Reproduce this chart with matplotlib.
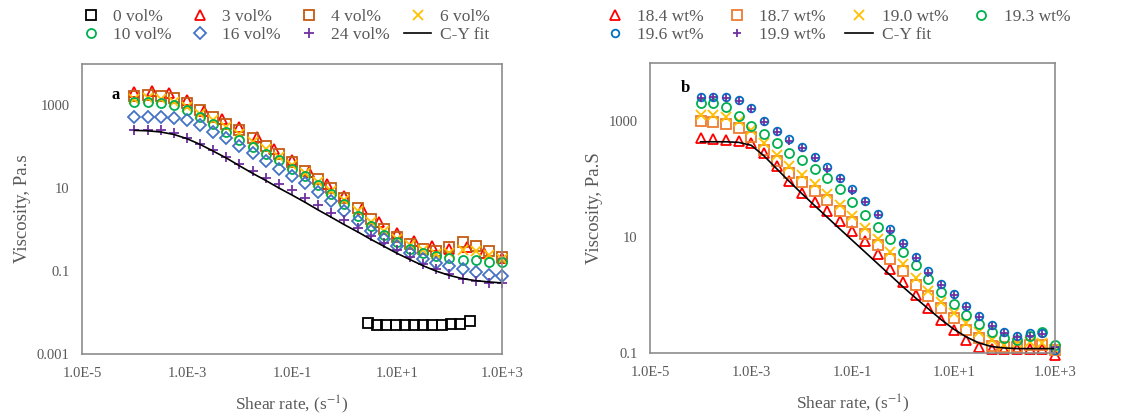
import numpy as np
import matplotlib
matplotlib.use('Agg')
import matplotlib.pyplot as plt

plt.rcParams['font.family'] = ['Liberation Serif', 'DejaVu Serif']
plt.rcParams['mathtext.fontset'] = 'stix'

# shear rate grid (s^-1), 4 points per decade
rate = [1.0e-4, 1.78e-4, 3.16e-4, 5.62e-4, 1.0e-3, 1.78e-3, 3.16e-3, 5.62e-3,
        1.0e-2, 1.78e-2, 3.16e-2, 5.62e-2, 0.1, 0.178, 0.316, 0.562,
        1.0, 1.78, 3.16, 5.62, 10, 17.8, 31.6, 56.2, 100, 178, 316, 562, 1000]
# red series in panel a was measured at 3 points per decade
rate_3 = [1.0e-4, 2.15e-4, 4.64e-4, 1.0e-3, 2.15e-3, 4.64e-3, 1.0e-2, 2.15e-2,
          4.64e-2, 0.1, 0.215, 0.464, 1.0, 2.15, 4.64, 10, 21.5, 46.4, 100,
          215, 464, 1000]
rate_0 = [2.8, 4.2, 6.3, 9.4, 14, 21, 32, 47, 71, 106, 159, 245]

# panel a: viscosity (Pa.s)
a_0 = [0.0057, 0.0050, 0.0050, 0.0051, 0.0051, 0.0051, 0.0051, 0.0051,
       0.0051, 0.0052, 0.0054, 0.0063]
a_3 = [2090, 2290, 2000, 1320, 724, 479, 302, 174, 91, 48, 25, 12.6, 6.6,
       3.16, 1.51, 0.83, 0.54, 0.40, 0.35, 0.38, 0.28, 0.21]
a_4 = [1660, 1780, 1740, 1510, 1120, 759, 525, 363, 251, 166, 107, 69, 43,
       26, 16.6, 10, 6.0, 3.3, 1.82, 1.05, 0.66, 0.46, 0.35, 0.30, 0.38,
       0.50, 0.40, 0.30, 0.22]
a_6 = [1410, 1480, 1410, 1200, 912, 631, 437, 295, 200, 135, 89, 58, 37,
       23, 14.5, 8.7, 5.1, 2.9, 1.58, 0.93, 0.60, 0.42, 0.32, 0.26, 0.28,
       0.33, 0.30, 0.25, 0.20]
a_10 = [1200, 1230, 1170, 1000, 759, 537, 363, 229, 145, 100, 69, 47, 30,
        19.5, 12.3, 7.2, 4.2, 2.2, 1.2, 0.76, 0.50, 0.35, 0.28, 0.23, 0.21,
        0.19, 0.19, 0.17, 0.17]
a_16 = [525, 537, 525, 501, 437, 331, 234, 162, 107, 71, 46, 30, 20.4, 13.2,
        8.1, 4.9, 2.9, 1.66, 0.95, 0.59, 0.40, 0.28, 0.20, 0.16, 0.13, 0.11,
        0.093, 0.083, 0.076]
a_24 = [251, 257, 251, 214, 166, 120, 83, 56, 38, 26, 18.2, 12.6, 8.9, 6.0,
        4.0, 2.6, 1.74, 1.12, 0.72, 0.47, 0.32, 0.22, 0.15, 0.11, 0.085,
        0.066, 0.058, 0.052, 0.052]
a_fit = [251, 245, 229, 200, 158, 115, 79, 54, 35, 23, 15.5, 10.2, 6.9, 4.6,
         3.0, 2.0, 1.32, 0.89, 0.59, 0.40, 0.27, 0.19, 0.135, 0.10, 0.079,
         0.066, 0.059, 0.055, 0.052]

# panel b: viscosity (Pa.s)
b_184 = [501, 479, 468, 457, 417, 282, 166, 93, 58, 40, 28, 18.6, 12.6, 8.5,
         5.2, 2.8, 1.66, 1.0, 0.60, 0.38, 0.25, 0.17, 0.13, 0.12, 0.12, 0.12,
         0.12, 0.12, 0.093]
b_187 = [977, 955, 891, 759, 525, 316, 200, 126, 89, 63, 43, 28, 18.2, 11.2,
         7.2, 4.2, 2.6, 1.51, 0.95, 0.60, 0.40, 0.25, 0.18, 0.135, 0.126,
         0.13, 0.138, 0.138, 0.112]
b_190 = [1260, 1260, 1170, 1000, 692, 417, 263, 166, 115, 81, 55, 36, 23,
         14.5, 9.3, 5.5, 3.4, 2.0, 1.2, 0.76, 0.50, 0.33, 0.23, 0.166, 0.141,
         0.148, 0.158, 0.151, 0.12]
b_193 = [2040, 2000, 1740, 1200, 832, 603, 417, 275, 209, 151, 105, 66, 40,
         24, 14.8, 9.1, 5.6, 3.3, 1.91, 1.12, 0.69, 0.46, 0.32, 0.23, 0.18,
         0.166, 0.20, 0.23, 0.141]
b_196 = [2630, 2630, 2570, 2290, 1660, 1000, 676, 479, 355, 240, 158, 105, 66,
         42, 25, 13.5, 7.9, 4.5, 2.57, 1.58, 1.05, 0.66, 0.44, 0.30, 0.23,
         0.20, 0.22, 0.22, 0.112]
b_199 = [2510, 2570, 2510, 2190, 1580, 955, 646, 457, 339, 229, 151, 100, 63,
         40, 24, 12.9, 7.6, 4.3, 2.45, 1.51, 1.0, 0.63, 0.42, 0.29, 0.22,
         0.19, 0.20, 0.21, 0.126]
b_fit = [437, 437, 437, 427, 380, 251, 151, 91, 56, 35, 22, 13.8, 8.7, 5.5,
         3.47, 2.19, 1.38, 0.89, 0.58, 0.38, 0.26, 0.19, 0.15, 0.13, 0.123,
         0.12, 0.12, 0.12, 0.12]

xticks = [1e-5, 1e-3, 1e-1, 1e1, 1e3]
xticklabels = ['1.0E-5', '1.0E-3', '1.0E-1', '1.0E+1', '1.0E+3']

gray = '#595959'
ms = 6.5

fig = plt.figure(figsize=(11.29, 4.16), dpi=100)
ax1 = fig.add_axes([0.0726, 0.149, 0.372, 0.697])
ax2 = fig.add_axes([0.5757, 0.151, 0.3587, 0.698])
for ax in (ax1, ax2):
    ax.set_xscale('log')
    ax.set_yscale('log')


def hollow(ax, x, y, marker, color, label, size=ms):
    ax.plot(x, y, linestyle='none', marker=marker, markersize=size,
            markerfacecolor='none', markeredgecolor=color, markeredgewidth=1.3,
            label=label, clip_on=False)


# panel a
hollow(ax1, rate_0, a_0, 's', 'black', '0 vol%')
hollow(ax1, rate_3, a_3, '^', '#FF0000', '3 vol%')
hollow(ax1, rate, a_4, 's', '#C55A11', '4 vol%')
hollow(ax1, rate, a_6, 'x', '#FFC000', '6 vol%')
hollow(ax1, rate, a_10, 'o', '#00B050', '10 vol%')
hollow(ax1, rate, a_16, 'D', '#4472C4', '16 vol%', 6)
hollow(ax1, rate, a_24, '+', '#7030A0', '24 vol%', 7.5)
ax1.plot(rate, a_fit, color='black', linewidth=1.2, label='C-Y fit')
ax1.set_ylim(0.001, 10000)
ax1.set_yticks([0.001, 0.1, 10, 1000])
ax1.set_yticklabels(['0.001', '0.1', '10', '1000'])
ax1.set_ylabel('Viscosity, Pa.s', color=gray, fontsize=13.5, labelpad=4)
ax1.text(0.07, 0.88, 'a', transform=ax1.transAxes, fontsize=12,
         fontweight='bold')

# panel b
hollow(ax2, rate, b_184, '^', '#FF0000', '18.4 wt%')
hollow(ax2, rate, b_187, 's', '#ED7D31', '18.7 wt%')
hollow(ax2, rate, b_190, 'x', '#FFC000', '19.0 wt%')
hollow(ax2, rate, b_193, 'o', '#00B050', '19.3 wt%')
hollow(ax2, rate, b_196, 'o', '#0070C0', '19.6 wt%', 5.5)
hollow(ax2, rate, b_199, '+', '#7030A0', '19.9 wt%', 5.5)
ax2.plot(rate, b_fit, color='black', linewidth=1.2, label='C-Y fit')
ax2.set_ylim(0.1, 10000)
ax2.set_yticks([0.1, 10, 1000])
ax2.set_yticklabels(['0.1', '10', '1000'])
ax2.set_ylabel('Viscosity, Pa.S', color=gray, fontsize=13.5, labelpad=4)
ax2.text(0.075, 0.9, 'b', transform=ax2.transAxes, fontsize=12,
         fontweight='bold')

for ax in (ax1, ax2):
    ax.set_xlim(1e-5, 1e3)
    ax.set_xticks(xticks)
    ax.set_xticklabels(xticklabels)
    ax.minorticks_off()
    ax.tick_params(length=0, labelsize=10.5, colors=gray, pad=9)
    ax.set_xlabel('Shear rate, (s$^{-1}$)', color=gray, fontsize=12.5,
                  labelpad=10)
    for s in ax.spines.values():
        s.set_color('#8C8C8C')
        s.set_linewidth(1.2)

leg_kw = dict(ncol=4, loc='upper left', frameon=False, fontsize=12.5,
              borderpad=0, handlelength=1.6, handletextpad=0.5,
              labelspacing=0.1, labelcolor=gray)

# legend fills column by column, so reorder to read row by row
h, l = ax1.get_legend_handles_labels()
order = [0, 4, 1, 5, 2, 6, 3, 7]
ax1.legend([h[i] for i in order], [l[i] for i in order],
           bbox_to_anchor=(68 / 1129, 1.0),
           bbox_transform=fig.transFigure, columnspacing=0.8, **leg_kw)
h, l = ax2.get_legend_handles_labels()
order = [0, 4, 1, 5, 2, 6, 3]
ax2.legend([h[i] for i in order], [l[i] for i in order],
           bbox_to_anchor=(592 / 1129, 1.0),
           bbox_transform=fig.transFigure, columnspacing=1.1, **leg_kw)

plt.savefig('out.png', dpi=100)
